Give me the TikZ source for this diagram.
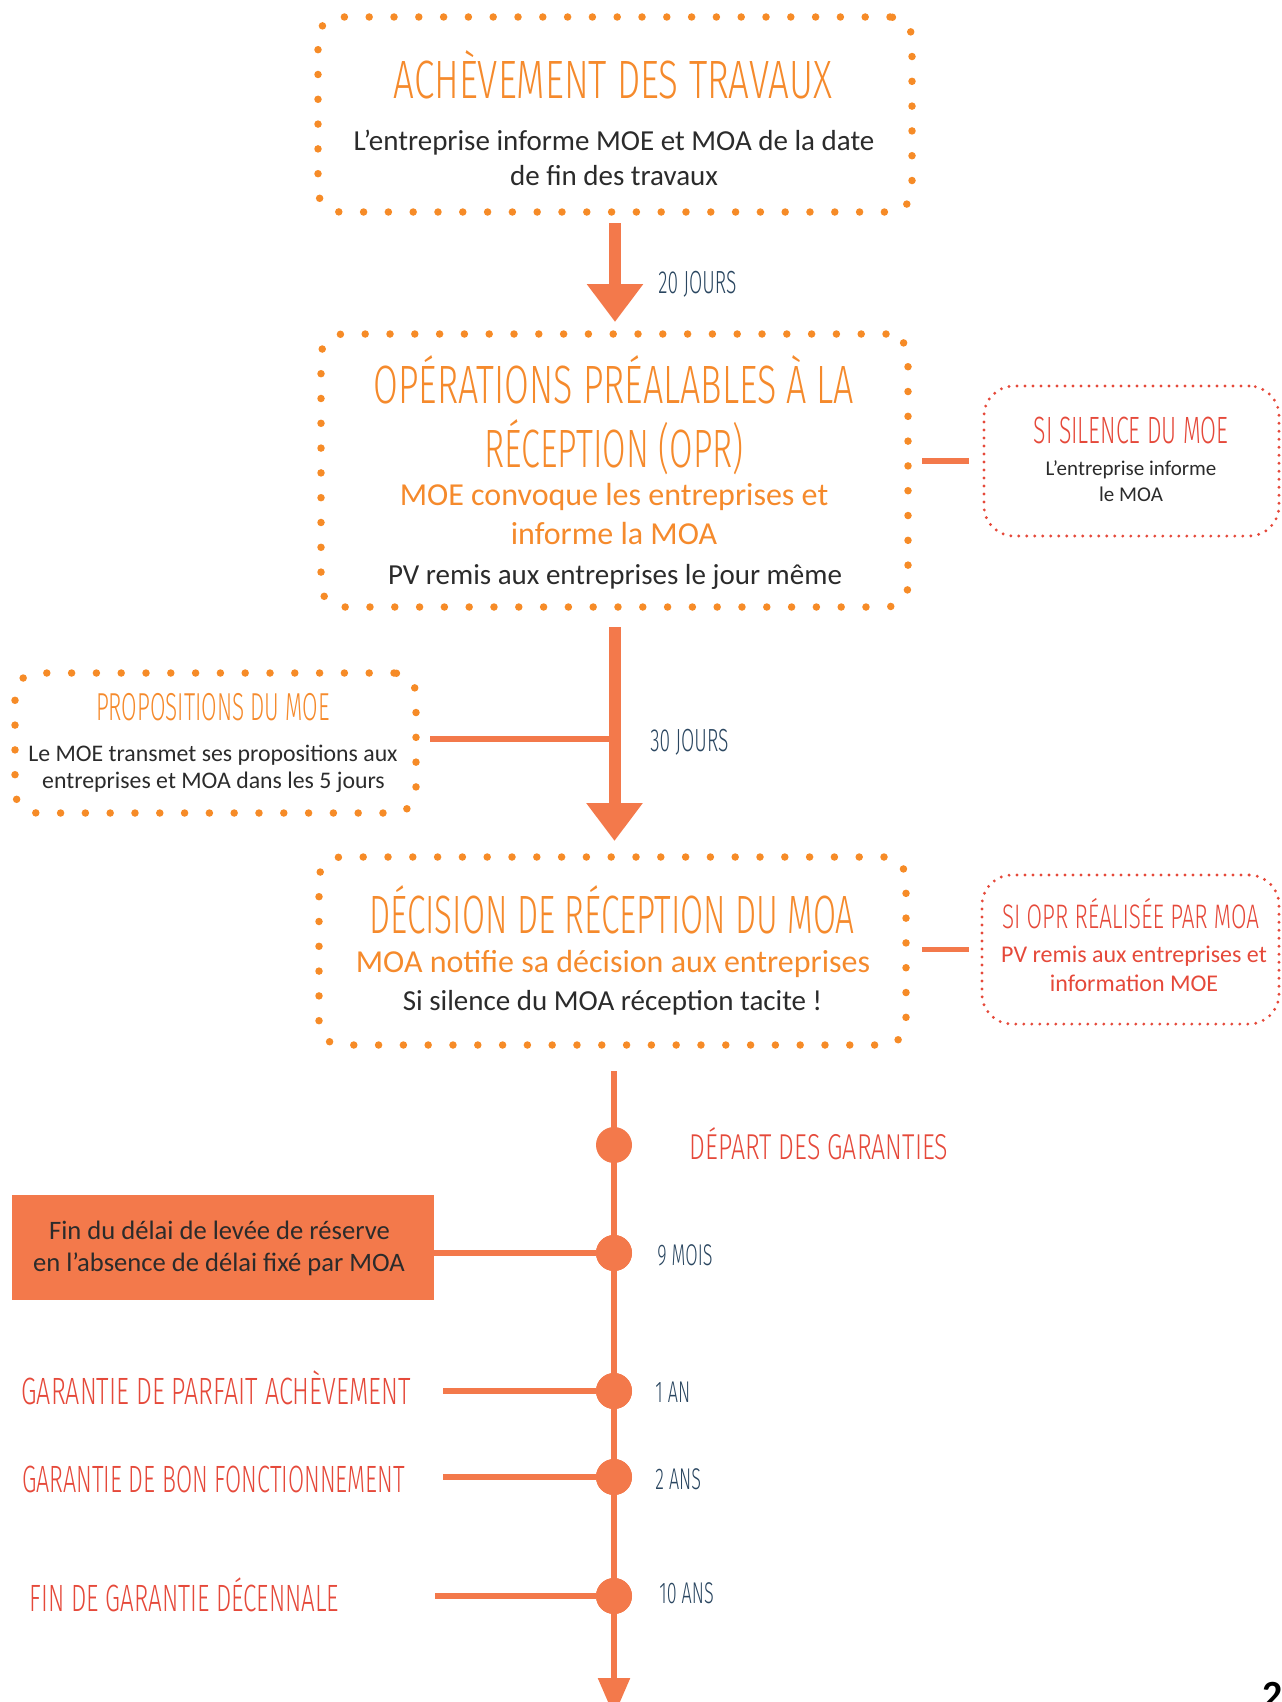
\documentclass[tikz,border=0pt]{standalone}
\usepackage{fontspec}
\usepackage{graphicx}
\setmainfont{Carlito}
\newfontfamily\titlefont[FakeStretch=0.6, UprightFont={* Light}]{Fira Sans}
\newcommand\xs[2]{\scalebox{#1}[1]{#2}}
\usetikzlibrary{arrows.meta}
\definecolor{dotorange}{HTML}{F68B27}
\definecolor{titleorange}{HTML}{F58A2C}
\definecolor{salmon}{HTML}{F3794B}
\definecolor{redtxt}{HTML}{E5493A}
\definecolor{navy}{HTML}{2A4660}
\definecolor{ink}{HTML}{2B2B2B}
\begin{document}
\begin{tikzpicture}[x=0.5pt,y=-0.5pt,
  bigbox/.style={draw=dotorange, line width=3.75pt, line cap=round, dash pattern=on 0pt off 12.4pt, rounded corners=11pt, inner sep=0pt, outer sep=0pt},
  redbox/.style={draw=redtxt, line width=1.6pt, line cap=round, dash pattern=on 0pt off 4pt, rounded corners=15pt, inner sep=0pt, outer sep=0pt},
  fillbox/.style={fill=salmon, inner sep=0pt, outer sep=0pt},
  conn/.style={draw=salmon, line width=2.75pt},
  bigarrow/.style={draw=salmon, line width=6pt, -{Triangle[width=27pt,length=19pt]}},
  tline/.style={draw=salmon, line width=2.75pt, -{Triangle[width=15.5pt,length=19pt]}},
  tdot/.style={circle, fill=salmon, minimum size=18pt, inner sep=0pt, outer sep=0pt},
  ttl/.style={inner sep=0pt, anchor=base},
  bigtitle/.style={ttl, text=titleorange, font=\titlefont\fontsize{27}{27}\selectfont},
  body/.style={ttl, text=ink, font=\fontsize{14.5}{17}\selectfont},
  orangebody/.style={ttl, text=titleorange, font=\fontsize{16}{18}\selectfont},
  redtitle/.style={ttl, text=redtxt, font=\titlefont\fontsize{19}{19}\selectfont},
  orangetitle/.style={ttl, text=titleorange, font=\titlefont\fontsize{19.5}{19.5}\selectfont},
  smallbody/.style={ttl, text=ink, font=\fontsize{10.5}{12}\selectfont},
  redbody/.style={ttl, text=redtxt, font=\fontsize{12}{14}\selectfont},
  leftbody/.style={ttl, text=ink, font=\fontsize{11.9}{13}\selectfont},
  rectbody/.style={ttl, text=ink, font=\fontsize{13.3}{15}\selectfont},
  timelbl/.style={inner sep=0pt, anchor=base west, text=navy, font=\titlefont\fontsize{15}{15}\selectfont},
  daylbl/.style={inner sep=0pt, anchor=base west, text=navy, font=\titlefont\fontsize{16}{16}\selectfont},
]
\useasboundingbox (0,0) rectangle (1281,1702);

% ---- boxes
\node[bigbox, minimum width=297pt, minimum height=97.5pt] (b1) at (615,114.5) {};
\node[bigbox, minimum width=293.5pt, minimum height=136.5pt] (b2) at (614.5,470.5) {};
\node[bigbox, minimum width=293.5pt, minimum height=94pt] (b3) at (612.5,951) {};
\node[redbox, minimum width=147.5pt, minimum height=75pt] (rb1) at (1131.5,461) {};
\node[redbox, minimum width=148.5pt, minimum height=74.5pt] (rb2) at (1130.5,949.5) {};
\node[bigbox, minimum width=200.5pt, minimum height=70pt] (lb) at (215.5,743) {};
\node[fillbox, minimum width=211pt, minimum height=52.5pt] (fr) at (223,1247.5) {};

% ---- box 1 text
\node[bigtitle] (t1) at (613,99) {\xs{1.135}{ACHÈVEMENT DES TRAVAUX}};
\node[body] (t1a) at (614,150) {L’entreprise informe MOE et MOA de la date};
\node[body] (t1b) at (614,185) {de fin des travaux};

% ---- box 2 text
\node[bigtitle] (t2) at (614,403) {\xs{1.107}{OPÉRATIONS PRÉALABLES À LA}};
\node[bigtitle] (t2b) at (614,467) {\xs{1.05}{RÉCEPTION (OPR)}};
\node[orangebody] (t2c) at (614,505) {MOE convoque les entreprises et};
\node[orangebody] (t2d) at (614,544) {informe la MOA};
\node[body] (t2e) at (615,584) {PV remis aux entreprises le jour même};

% ---- box 3 text
\node[bigtitle] (t3) at (612,933) {\xs{1.03}{DÉCISION DE RÉCEPTION DU MOA}};
\node[orangebody] (t3b) at (613,972) {MOA notifie sa décision aux entreprises};
\node[body] (t3c) at (612.5,1010) {Si silence du MOA réception tacite !};

% ---- right box 1
\node[redtitle] (r1t) at (1131,443) {\xs{1.01}{SI SILENCE DU MOE}};
\node[smallbody] (r1a) at (1131,475) {L’entreprise informe};
\node[smallbody] (r1b) at (1131,501) {le MOA};

% ---- right box 2
\node[ttl, text=redtxt, font=\titlefont\fontsize{17}{17}\selectfont] (r2t) at (1130.5,928) {\xs{1.10}{SI OPR RÉALISÉE PAR MOA}};
\node[redbody] (r2a) at (1134,962) {PV remis aux entreprises et};
\node[redbody] (r2b) at (1134,991) {information MOE};

% ---- left box
\node[orangetitle] (lt) at (213,720) {\xs{0.96}{PROPOSITIONS DU MOE}};
\node[leftbody] (la) at (213,761) {Le MOE transmet ses propositions aux};
\node[leftbody] (lbb) at (213.5,788) {entreprises et MOA dans les 5 jours};

% ---- filled rect
\node[rectbody] (fa) at (219.5,1239) {Fin du délai de levée de réserve};
\node[rectbody] (fb) at (219,1271) {en l’absence de délai fixé par MOA};

% ---- arrow labels
\node[daylbl] (j20) at (658,293) {20 JOURS};
\node[daylbl] (j30) at (650,751) {30 JOURS};

% ---- connectors to side boxes
\coordinate (a2j) at (614.5,739);
\draw[conn, shorten <=7pt] (lb.east |- a2j) -- (a2j);
\draw[conn, shorten <=7pt, shorten >=7.5pt] (b2.east |- rb1.west) -- (rb1.west);
\draw[conn, shorten <=8pt, shorten >=6.5pt] (b3.east |- rb2.west) -- (rb2.west);

% ---- main arrows
\draw[bigarrow, shorten <=5.5pt, shorten >=6pt] (b1.south) -- (b1.south |- b2.north);
\draw[bigarrow, shorten <=10pt, shorten >=8pt] (b2.south) -- (b2.south |- b3.north);

% ---- timeline
\coordinate (tl1) at (614,1716);
\draw[tline, shorten <=13pt] (tl1 |- b3.south) -- (tl1);

\node[tdot] (d0) at (614,1145) {};
\node[tdot] (d1) at (614,1253) {};
\node[tdot] (d2) at (614,1391) {};
\node[tdot] (d3) at (614,1477) {};
\node[tdot] (d4) at (614,1596) {};

\coordinate (g1c) at (443,1391);
\coordinate (g2c) at (443,1477);
\coordinate (g3c) at (435,1596);
\draw[conn] (fr.east |- d1) -- (d1);
\draw[conn] (g1c) -- (d2);
\draw[conn] (g2c) -- (d3);
\draw[conn] (g3c) -- (d4);
\node[tdot] at (d1) {};
\node[tdot] at (d2) {};
\node[tdot] at (d3) {};
\node[tdot] at (d4) {};

% ---- timeline labels
\node[ttl, text=redtxt, font=\titlefont\fontsize{18}{18}\selectfont] (dep) at (819,1159) {\xs{1.155}{DÉPART DES GARANTIES}};
\node[timelbl] (m9) at (657,1265) {9 MOIS};
\node[timelbl] (a1) at (655,1402) {1 AN};
\node[timelbl] (a2) at (655,1489) {2 ANS};
\node[timelbl] (a10) at (659,1603) {10 ANS};

\node[redtitle] (g1) at (216,1404) {\xs{1.10}{GARANTIE DE PARFAIT ACHÈVEMENT}};
\node[redtitle] (g2) at (213.5,1492) {\xs{1.025}{GARANTIE DE BON FONCTIONNEMENT}};
\node[redtitle] (g3) at (184.5,1611) {\xs{1.06}{FIN DE GARANTIE DÉCENNALE}};

% ---- page number
\node[ttl, text=black, font=\bfseries\fontsize{20}{20}\selectfont] (pg) at (1273,1708) {2};
\end{tikzpicture}
\end{document}
